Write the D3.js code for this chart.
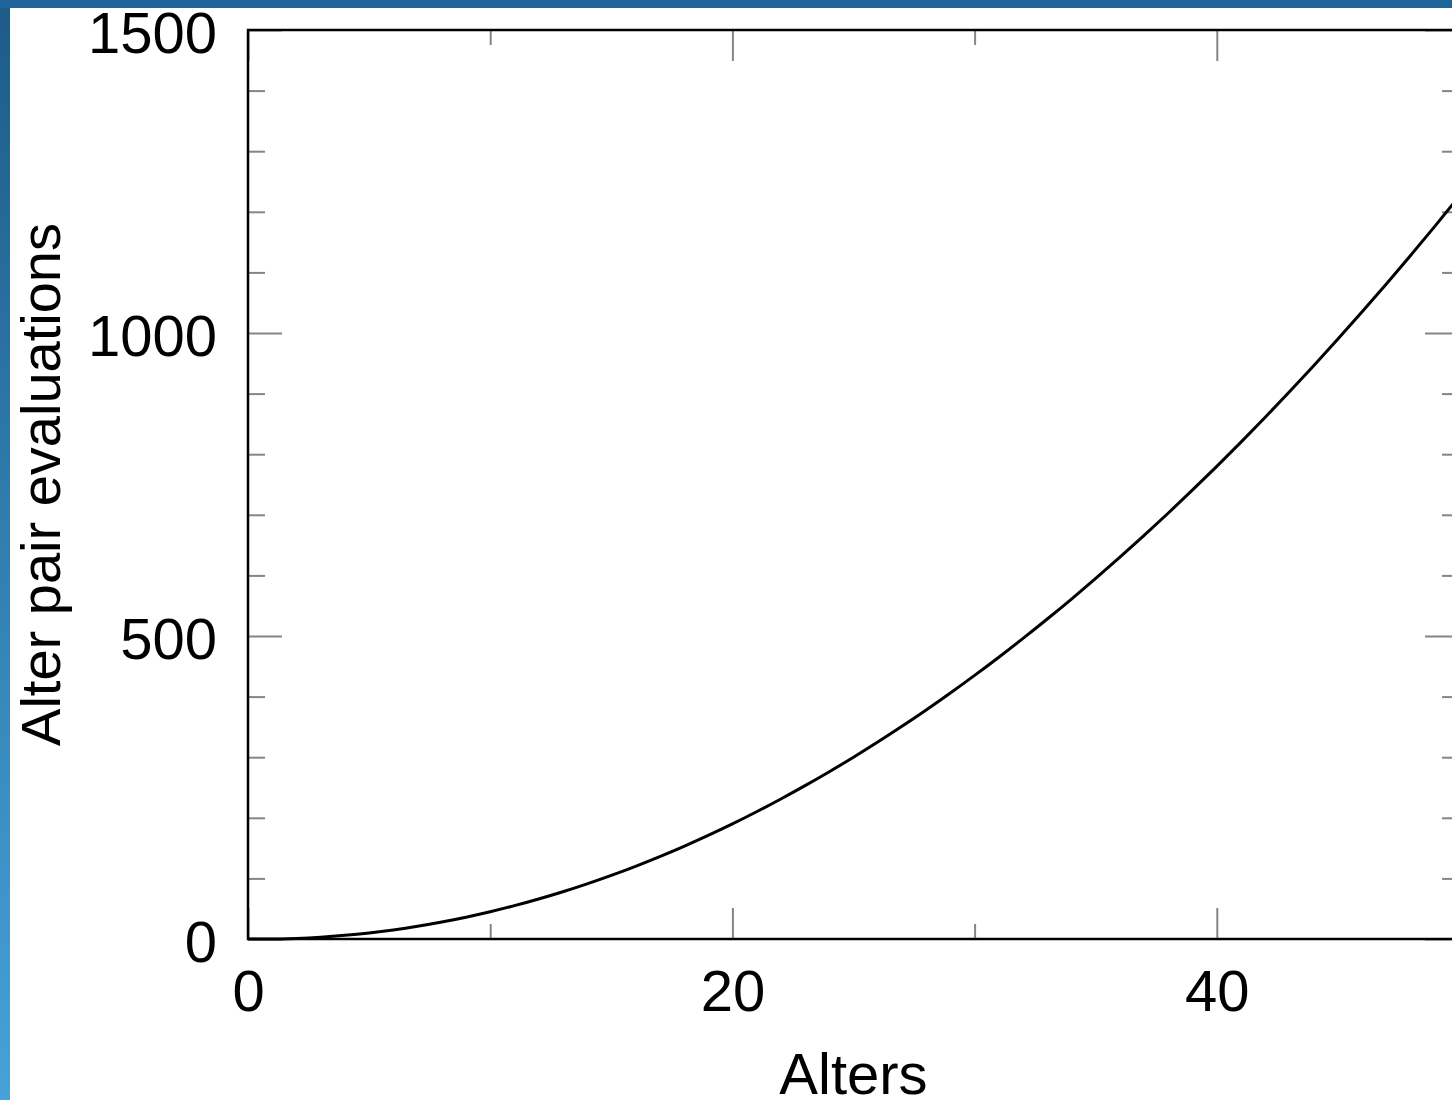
<!DOCTYPE html>
<html>
<head>
<meta charset="utf-8">
<script src="https://cdn.jsdelivr.net/npm/d3@7"></script>
<style>
  html, body { margin: 0; padding: 0; background: #fff; }
  svg { display: block; }
  text { font-family: "Liberation Sans", Arial, Helvetica, sans-serif; }
</style>
</head>
<body>
<div class="canvas"></div>
<script>
// data
const alters = [0,1,2,3,4,5,6,7,8,9,10,11,12,13,14,15,16,17,18,19,20,21,22,23,24,25,
  26,27,28,29,30,31,32,33,34,35,36,37,38,39,40,41,42,43,44,45,46,47,48,49,50];
const evaluations = [0,0,1,3,6,10,15,21,28,36,45,55,66,78,91,105,120,136,153,171,190,
  210,231,253,276,300,325,351,378,406,435,465,496,528,561,595,630,666,703,741,780,
  820,861,903,946,990,1035,1081,1128,1176,1225];
const xMajorTicks = [0, 20, 40];
const xMinorTicks = [10, 30];
const yMajorTicks = [0, 500, 1000, 1500];
const yMinorTicks = [100,200,300,400,600,700,800,900,1100,1200,1300,1400];

const W = 1452, H = 1100;
const margin = { top: 30, left: 248 };
const graphWidth = 1459 - margin.left;
const graphHeight = 939 - margin.top;

const svg = d3.select('.canvas')
  .append('svg')
  .attr('width', W)
  .attr('height', H);

// blue slide-like border on left and top
const defs = svg.append('defs');
const grad = defs.append('linearGradient')
  .attr('id', 'side')
  .attr('x1', 0).attr('y1', 0).attr('x2', 0).attr('y2', 1);
grad.append('stop').attr('offset', '0%').attr('stop-color', '#1d5b88');
grad.append('stop').attr('offset', '100%').attr('stop-color', '#46a2d8');

svg.append('rect').attr('x', 0).attr('y', 0).attr('width', 10).attr('height', H)
  .attr('fill', 'url(#side)');
svg.append('rect').attr('x', 0).attr('y', 0).attr('width', W).attr('height', 8)
  .attr('fill', '#20659a');

const graph = svg.append('g')
  .attr('transform', `translate(${margin.left}, ${margin.top})`);

const x = d3.scaleLinear().domain([0, 50]).range([0, graphWidth]);
const y = d3.scaleLinear().domain([0, 1500]).range([graphHeight, 0]);

const fontSize = 58;
const fmt = d3.format('d');

// axes (ticks pointing inward)
const styleTicks = g => {
  g.select('.domain').remove();
  g.selectAll('.tick line').attr('stroke', '#858585').attr('stroke-width', 2);
};

// bottom
graph.append('g')
  .attr('transform', `translate(0, ${graphHeight})`)
  .call(d3.axisBottom(x).tickValues(xMajorTicks).tickSize(-31).tickPadding(31).tickFormat(fmt))
  .call(styleTicks)
  .call(g => g.selectAll('text').attr('font-size', fontSize).attr('fill', '#000')
    .attr('font-family', '"Liberation Sans", Arial, sans-serif'));
graph.append('g')
  .attr('transform', `translate(0, ${graphHeight})`)
  .call(d3.axisBottom(x).tickValues(xMinorTicks).tickSize(-15).tickFormat(''))
  .call(styleTicks);

// top
graph.append('g')
  .call(d3.axisTop(x).tickValues(xMajorTicks).tickSize(-31).tickFormat(''))
  .call(styleTicks);
graph.append('g')
  .call(d3.axisTop(x).tickValues(xMinorTicks).tickSize(-15).tickFormat(''))
  .call(styleTicks);

// left
graph.append('g')
  .call(d3.axisLeft(y).tickValues(yMajorTicks).tickSize(-34).tickPadding(31).tickFormat(fmt))
  .call(styleTicks)
  .call(g => g.selectAll('text').attr('font-size', fontSize).attr('fill', '#000')
    .attr('dy', '0.39em')
    .attr('font-family', '"Liberation Sans", Arial, sans-serif'));
graph.append('g')
  .call(d3.axisLeft(y).tickValues(yMinorTicks).tickSize(-17).tickFormat(''))
  .call(styleTicks);

// right
graph.append('g')
  .attr('transform', `translate(${graphWidth}, 0)`)
  .call(d3.axisRight(y).tickValues(yMajorTicks).tickSize(-34).tickFormat(''))
  .call(styleTicks);
graph.append('g')
  .attr('transform', `translate(${graphWidth}, 0)`)
  .call(d3.axisRight(y).tickValues(yMinorTicks).tickSize(-17).tickFormat(''))
  .call(styleTicks);

// the curve
const line = d3.line()
  .x((d, i) => x(alters[i]))
  .y(d => y(d))
  .curve(d3.curveMonotoneX);

graph.append('path')
  .datum(evaluations)
  .attr('fill', 'none')
  .attr('stroke', '#000')
  .attr('stroke-width', 3)
  .attr('d', line);

// frame
graph.append('rect')
  .attr('x', 0).attr('y', 0)
  .attr('width', graphWidth).attr('height', graphHeight)
  .attr('fill', 'none')
  .attr('stroke', '#000')
  .attr('stroke-width', 2.5);

// axis titles
svg.append('text')
  .text('Alters')
  .attr('x', margin.left + graphWidth / 2)
  .attr('y', 1094)
  .attr('text-anchor', 'middle')
  .attr('font-size', fontSize)
  .attr('fill', '#000');

svg.append('text')
  .text('Alter pair evaluations')
  .attr('transform', `translate(60, ${margin.top + graphHeight / 2}) rotate(-90)`)
  .attr('text-anchor', 'middle')
  .attr('font-size', 56)
  .attr('fill', '#000');
</script>
</body>
</html>
